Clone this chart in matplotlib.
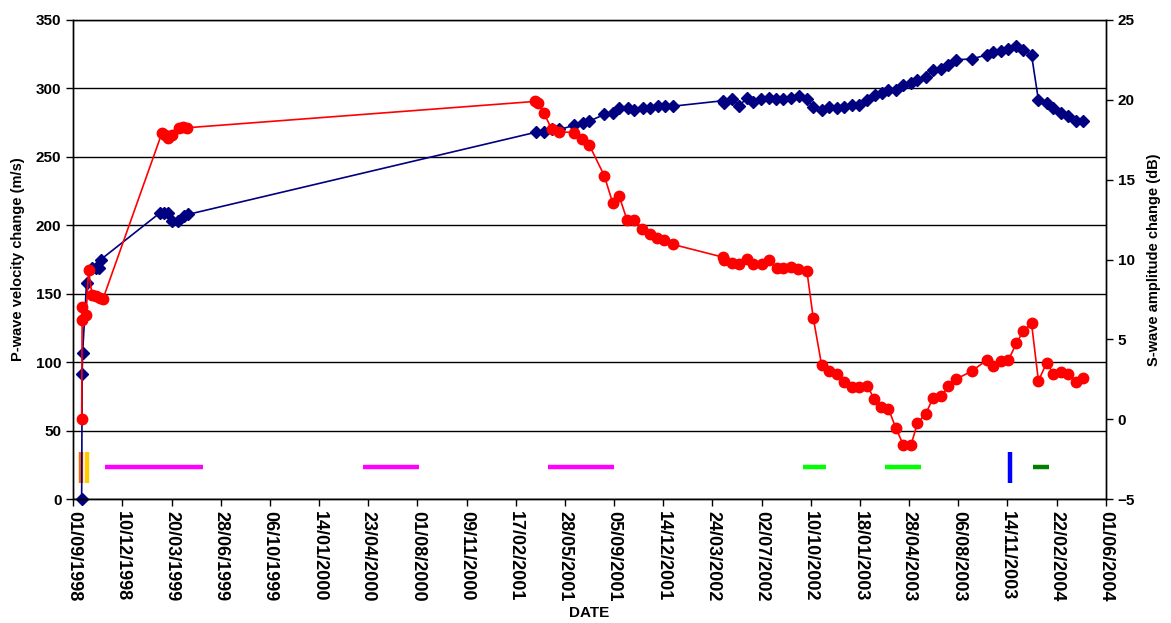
import pandas as pd
import matplotlib
matplotlib.use("Agg")
import matplotlib.pyplot as plt
import matplotlib.dates as mdates

plt.rcParams['font.family'] = ['Liberation Sans', 'DejaVu Sans']
plt.rcParams['font.weight'] = 'bold'

start = pd.Timestamp('1998-09-01')

# P-wave velocity change (m/s), days since 01/09/1998
p_days = [17, 18, 19, 27, 38, 46, 52, 56,
          176, 185, 193, 200, 213, 226, 234,
          941, 958, 973, 988, 1019, 1036, 1049, 1080, 1097, 1110, 1128, 1141, 1158, 1173, 1189, 1203, 1219,
          1321, 1323, 1339, 1355, 1370, 1383, 1399, 1414, 1429, 1444, 1460, 1476, 1492,
          1505, 1522, 1538, 1553, 1568, 1583, 1598, 1615, 1631, 1644, 1658, 1673, 1688, 1704, 1717, 1734,
          1749, 1765, 1780, 1795,
          1827, 1858, 1871, 1887, 1902, 1918, 1932, 1949,
          1963, 1980, 1993, 2009, 2024, 2040, 2054]
p_vel = [0, 91, 107, 158, 169, 169, 169, 175,
         209, 209, 209, 203, 203, 207, 208,
         268, 268, 270, 270, 273, 275, 276, 281, 282, 286, 286, 284, 286, 286, 287, 287, 287,
         291, 289, 292, 287.5, 293, 290, 292, 293, 292, 292.5, 293, 294.5, 292,
         286.5, 284.5, 286.5, 285.5, 286.5, 288, 288, 291.5, 295, 296.5, 299, 298.5, 302.5, 304, 306, 308.5,
         313.5, 314.5, 317, 321,
         321.5, 324.5, 326.5, 327.5, 329, 331, 328, 324.5,
         291.5, 289, 285.5, 282, 280, 276, 276]

# S-wave amplitude change (dB)
s_days = [17, 18, 18, 26, 31, 38, 46, 54, 60,
          180, 187, 193, 200, 214, 224, 231,
          939, 946, 957, 973, 988, 1019, 1034, 1049, 1080, 1097, 1110, 1126, 1141, 1157, 1172, 1188, 1202, 1219,
          1321, 1323, 1339, 1353, 1370, 1383, 1400, 1415, 1431, 1444, 1459, 1475, 1492,
          1505, 1522, 1538, 1553, 1567, 1583, 1598, 1615, 1629, 1643, 1658, 1673, 1688, 1704, 1717, 1734,
          1749, 1765, 1780, 1795,
          1827, 1858, 1871, 1887, 1902, 1918, 1932, 1949,
          1963, 1980, 1993, 2009, 2024, 2040, 2054]
s_amp = [0.0, 6.2, 7.05, 6.5, 9.35, 7.8, 7.7, 7.6, 7.5,
         17.9, 17.8, 17.6, 17.8, 18.25, 18.3, 18.25,
         19.9, 19.8, 19.2, 18.15, 18.0, 17.95, 17.55, 17.2, 15.25, 13.55, 14.0, 12.5, 12.5, 11.9, 11.6,
         11.35, 11.25, 10.95,
         10.15, 9.95, 9.8, 9.75, 10.05, 9.75, 9.75, 9.95, 9.45, 9.45, 9.55, 9.4, 9.3,
         6.35, 3.4, 3.0, 2.85, 2.35, 2.0, 2.0, 2.1, 1.25, 0.75, 0.65, -0.55, -1.6, -1.6, -0.25, 0.35,
         1.35, 1.45, 2.05, 2.5,
         3.0, 3.7, 3.3, 3.65, 3.7, 4.75, 5.5, 6.0,
         2.4, 3.55, 2.85, 2.95, 2.85, 2.35, 2.6]

# event periods (days since start) drawn near the bottom
period_start = [64, 589, 965, 1485, 1651, 1952]
period_end = [263, 703, 1100, 1530, 1724, 1984]
period_color = ['#FF00FF', '#FF00FF', '#FF00FF', '#00FF00', '#00FF00', '#008000']
period_level = 23.6
event_day = [15, 28, 1905]
event_color = ['#FF6600', '#FFCC00', '#0000FF']
event_low, event_high = 12, 34.6


def to_dates(days):
    return start + pd.to_timedelta(days, unit='D')


fig = plt.figure(figsize=(11.71, 6.23), dpi=100)
ax = fig.add_axes([0.0626, 0.199, 0.8817, 0.7689])
ax2 = ax.twinx()

ax.set_ylim(0, 350)
ax.set_yticks(range(0, 351, 50))
ax2.set_ylim(-5, 25)
ax2.set_yticks(range(-5, 26, 5))
ax.yaxis.grid(True, color='black', linewidth=1.0)
ax.set_axisbelow(True)

ax.hlines([period_level] * len(period_start), to_dates(period_start), to_dates(period_end),
          colors=period_color, linewidth=3.2)
ax.vlines(to_dates(event_day), event_low, event_high, colors=event_color, linewidth=3.2)

ax.plot(to_dates(p_days), p_vel, color='#000080', marker='D', markersize=6,
        linewidth=1.2, clip_on=False)
ax2.plot(to_dates(s_days), s_amp, color='#FF0000', marker='o', markersize=7.5,
         linewidth=1.2, clip_on=False)

ticks = pd.date_range('1998-09-01', periods=22, freq='100D')
ax.set_xlim(ticks[0], ticks[-1])
ax.set_xticks(ticks)
ax.xaxis.set_major_formatter(mdates.DateFormatter('%d/%m/%Y'))
for lab in ax.get_xticklabels():
    lab.set_rotation(-90)
    lab.set_fontsize(13)
    lab.set_fontweight('bold')

for a in (ax, ax2):
    a.tick_params(direction='out', length=5, width=1, color='black')
    for s in a.spines.values():
        s.set_color('black')
        s.set_linewidth(1)
ax.tick_params(axis='y', labelsize=11)
ax2.tick_params(axis='y', labelsize=11)
ax.spines['top'].set_color('#808080')

ax.set_xlabel('DATE', fontsize=11, fontweight='bold', labelpad=3)
ax.set_ylabel('P-wave velocity change (m/s)', fontsize=10.5, fontweight='bold', labelpad=8)
ax2.set_ylabel('S-wave amplitude change (dB)', fontsize=10.5, fontweight='bold', labelpad=9)

fig.savefig('out.png', dpi=100)
